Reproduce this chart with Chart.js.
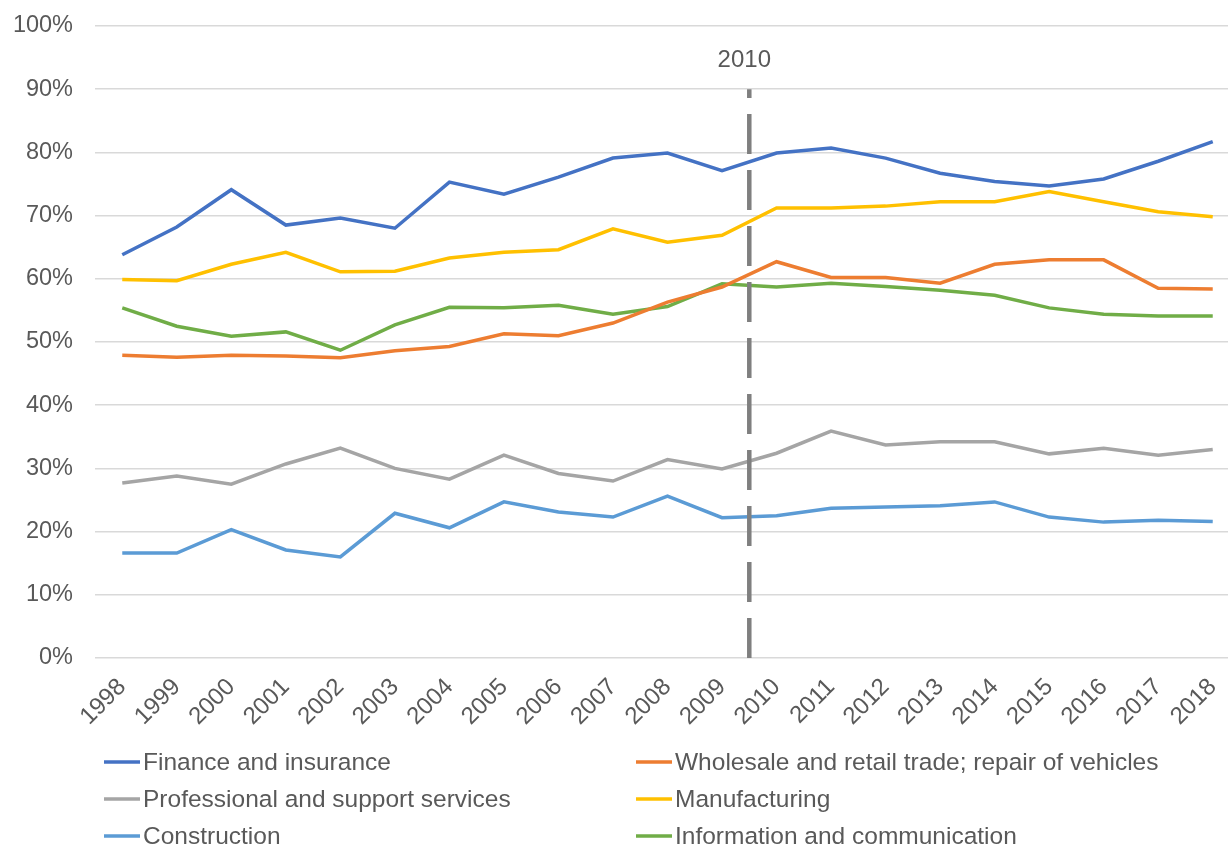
<!DOCTYPE html>
<html>
<head>
<meta charset="utf-8">
<script src="https://cdn.jsdelivr.net/npm/chart.js@4/dist/chart.umd.min.js"></script>
<style>
  html, body { margin: 0; padding: 0; background: #ffffff; overflow: hidden; }
  #wrap { position: relative; width: 1242px; height: 845px; }
</style>
</head>
<body>
<div id="wrap"><canvas id="chart"></canvas></div>
<script>
// Years on the category axis
const years = ['1998','1999','2000','2001','2002','2003','2004','2005','2006','2007','2008',
               '2009','2010','2011','2012','2013','2014','2015','2016','2017','2018'];

// Share by industry, per cent
const financeInsurance = [63.8, 68.2, 74.1, 68.5, 69.6, 68.0, 75.3, 73.4, 76.1, 79.1, 79.9,
                          77.1, 79.9, 80.7, 79.1, 76.7, 75.4, 74.7, 75.8, 78.6, 81.7];
const wholesaleRetail  = [47.9, 47.6, 47.9, 47.8, 47.5, 48.6, 49.3, 51.3, 51.0, 53.0, 56.3,
                          58.7, 62.7, 60.2, 60.2, 59.3, 62.3, 63.0, 63.0, 58.5, 58.4];
const professional     = [27.7, 28.8, 27.5, 30.7, 33.2, 30.0, 28.3, 32.1, 29.2, 28.0, 31.4,
                          29.9, 32.4, 35.9, 33.7, 34.2, 34.2, 32.3, 33.2, 32.1, 33.0];
const manufacturing    = [59.9, 59.7, 62.3, 64.2, 61.1, 61.2, 63.3, 64.2, 64.6, 67.9, 65.8,
                          66.9, 71.2, 71.2, 71.5, 72.2, 72.2, 73.8, 72.2, 70.6, 69.8];
const construction     = [16.6, 16.6, 20.3, 17.1, 16.0, 22.9, 20.6, 24.7, 23.1, 22.3, 25.6,
                          22.2, 22.5, 23.7, 23.9, 24.1, 24.7, 22.3, 21.5, 21.8, 21.6];
const infoComm         = [55.4, 52.5, 50.9, 51.6, 48.7, 52.7, 55.5, 55.4, 55.8, 54.4, 55.6,
                          59.2, 58.7, 59.3, 58.8, 58.2, 57.4, 55.4, 54.4, 54.1, 54.1];

// Y axis ticks, per cent
const yTicks = [0, 10, 20, 30, 40, 50, 60, 70, 80, 90, 100];

// Reference year marked by a dashed line
const markerYear = '2010';
const markerTopValue = 90;

const FONT = '"Liberation Sans", Arial, sans-serif';
const TEXT = '#595959';

function series(label, data, color) {
  return {
    label, data,
    borderColor: color, backgroundColor: color,
    borderWidth: 3.5, pointRadius: 0, pointHoverRadius: 0,
    tension: 0, fill: false
  };
}

const datasets = [
  series('Finance and insurance', financeInsurance, '#4472C4'),
  series('Wholesale and retail trade; repair of vehicles', wholesaleRetail, '#ED7D31'),
  series('Professional and support services', professional, '#A5A5A5'),
  series('Manufacturing', manufacturing, '#FFC000'),
  series('Construction', construction, '#5B9BD5'),
  series('Information and communication', infoComm, '#70AD47')
];

// Dashed vertical marker between the previous year and the marker year
const markerLine = {
  id: 'markerLine',
  afterDatasetsDraw(chart) {
    const x = chart.scales.x, y = chart.scales.y, ctx = chart.ctx;
    const i = years.indexOf(markerYear);
    const px = (x.getPixelForValue(i - 1) + x.getPixelForValue(i)) / 2;
    const bottom = y.getPixelForValue(0);
    const top = y.getPixelForValue(markerTopValue);
    ctx.save();
    ctx.strokeStyle = '#7F7F7F';
    ctx.lineWidth = 4.5;
    ctx.setLineDash([40, 16]);
    ctx.beginPath();
    ctx.moveTo(px, bottom);
    ctx.lineTo(px, top);
    ctx.stroke();
    ctx.setLineDash([]);
    ctx.fillStyle = TEXT;
    ctx.font = '24px ' + FONT;
    ctx.textAlign = 'center';
    ctx.textBaseline = 'middle';
    ctx.fillText(markerYear, px - 5, top - 29);
    ctx.restore();
  }
};

// Two-column legend under the axis
const gridLegend = {
  id: 'gridLegend',
  afterDraw(chart) {
    const ctx = chart.ctx;
    const cols = [104, 636];
    const rows = [762, 799, 836];
    ctx.save();
    ctx.font = '24.5px ' + FONT;
    ctx.textBaseline = 'middle';
    ctx.textAlign = 'left';
    chart.data.datasets.forEach((ds, k) => {
      const cx = cols[k % 2], cy = rows[Math.floor(k / 2)];
      ctx.strokeStyle = ds.borderColor;
      ctx.lineWidth = 3.5;
      ctx.beginPath();
      ctx.moveTo(cx, cy);
      ctx.lineTo(cx + 36, cy);
      ctx.stroke();
      ctx.fillStyle = TEXT;
      ctx.fillText(ds.label, cx + 39, cy + 1);
    });
    ctx.restore();
  }
};

new Chart(document.getElementById('chart'), {
  type: 'line',
  data: { labels: years, datasets },
  plugins: [markerLine, gridLegend],
  options: {
    responsive: true,
    maintainAspectRatio: false,
    animation: false,
    events: [],
    layout: { padding: { top: 26, right: 2, bottom: 105, left: 0 } },
    plugins: { legend: { display: false }, tooltip: { enabled: false } },
    scales: {
      x: {
        type: 'category',
        offset: true,
        grid: { display: false, drawTicks: false },
        border: { display: false },
        afterFit(scale) {
          scale.height = 82;
          scale.paddingLeft = 0; scale.paddingRight = 0;
          scale.paddingTop = 0; scale.paddingBottom = 0;
        },
        ticks: {
          color: TEXT,
          font: { family: FONT, size: 24 },
          minRotation: 45, maxRotation: 45,
          padding: 15,
          autoSkip: false
        }
      },
      y: {
        min: 0, max: 100,
        afterBuildTicks(scale) { scale.ticks = yTicks.map(v => ({ value: v })); },
        afterFit(scale) {
          scale.width = 95;
          scale.paddingLeft = 0; scale.paddingRight = 0;
          scale.paddingTop = 0; scale.paddingBottom = 0;
        },
        grid: { color: '#D9D9D9', lineWidth: 1.5, drawTicks: false },
        border: { display: false },
        ticks: {
          color: TEXT,
          font: { family: FONT, size: 23.5 },
          padding: 22,
          callback: v => v + '%'
        }
      }
    }
  }
});
</script>
</body>
</html>
